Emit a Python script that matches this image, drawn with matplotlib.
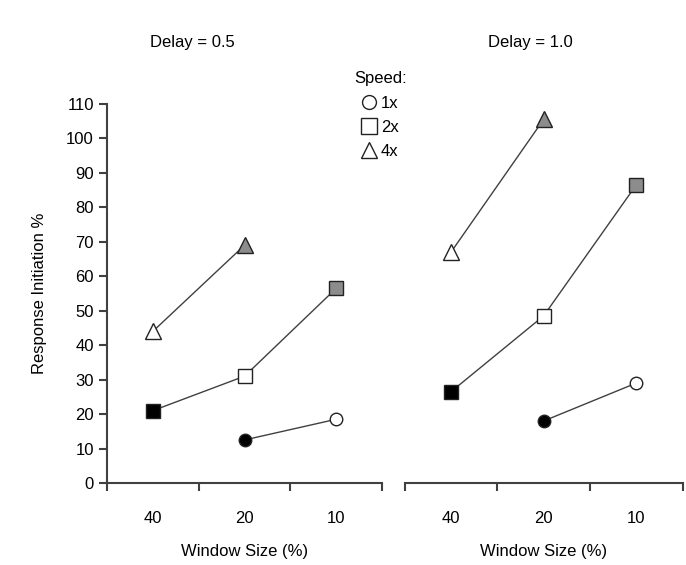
import numpy as np
import matplotlib.pyplot as plt
from matplotlib.lines import Line2D

plt.rcParams['font.family'] = ['Liberation Sans', 'DejaVu Sans']

# data
window_labels = ['40', '20', '10']
delays = ['Delay = 0.5', 'Delay = 1.0']

# left panel (delay 0.5): x positions index into window_labels
tri_x_05 = [0, 1]
tri_y_05 = [44, 69]
sq_x_05 = [0, 1, 2]
sq_y_05 = [21, 31, 56.5]
circ_x_05 = [1, 2]
circ_y_05 = [12.5, 18.5]

# right panel (delay 1.0)
tri_x_10 = [0, 1]
tri_y_10 = [67, 105.5]
sq_x_10 = [0, 1, 2]
sq_y_10 = [26.5, 48.5, 86.5]
circ_x_10 = [1, 2]
circ_y_10 = [18, 29]

# marker fills
tri_fill = ['white', '#8c8c8c']
sq_fill = ['black', 'white', '#8c8c8c']
circ_fill = ['black', 'white']

fig = plt.figure(figsize=(6.86, 5.65), dpi=100)
ax1 = fig.add_axes([0.156, 0.1451, 0.401, 0.671])
ax2 = fig.add_axes([0.590, 0.1451, 0.405, 0.671])

line_col = '#404040'
axis_col = '#404040'
fs = 12


def draw_series(ax, xs, ys, marker, fills, ms):
    ax.plot(xs, ys, color=line_col, lw=1.0, zorder=2)
    for x, y, f in zip(xs, ys, fills):
        ax.plot(x, y, marker=marker, ms=ms, mfc=f, mec='#222222', mew=1.0,
                ls='none', zorder=3, clip_on=False)


panels = [
    (ax1, tri_x_05, tri_y_05, sq_x_05, sq_y_05, circ_x_05, circ_y_05),
    (ax2, tri_x_10, tri_y_10, sq_x_10, sq_y_10, circ_x_10, circ_y_10),
]

for ax, tx, ty, sx, sy, cx, cy in panels:
    draw_series(ax, tx, ty, '^', tri_fill, 11)
    draw_series(ax, sx, sy, 's', sq_fill, 10)
    draw_series(ax, cx, cy, 'o', circ_fill, 9)
    ax.set_xlim(-0.5, 2.5)
    ax.set_ylim(0, 110)
    ax.set_xticks([-0.5, 0.5, 1.5, 2.5])
    ax.set_xticklabels([])
    ax.set_xticks(range(len(window_labels)), minor=True)
    ax.set_xticklabels(window_labels, minor=True, fontsize=fs)
    ax.tick_params(axis='x', which='major', direction='out', length=6,
                   width=1.5, color=axis_col)
    ax.tick_params(axis='x', which='minor', length=0, pad=20)
    ax.set_xlabel('Window Size (%)', fontsize=fs, labelpad=13)
    for s in ['top', 'right']:
        ax.spines[s].set_visible(False)
    ax.spines['bottom'].set_color(axis_col)
    ax.spines['bottom'].set_linewidth(1.5)

ax1.set_yticks(np.arange(0, 111, 10))
ax1.tick_params(axis='y', direction='out', length=6, width=1.5,
                color=axis_col, labelsize=fs)
ax1.spines['left'].set_color(axis_col)
ax1.spines['left'].set_linewidth(1.5)
ax1.set_ylabel('Response Initiation %', fontsize=fs, labelpad=14)

ax2.spines['left'].set_visible(False)
ax2.set_yticks([])

fig.text(192 / 686, 1 - 43 / 565, delays[0], ha='center', va='center', fontsize=fs)
fig.text(530 / 686, 1 - 43 / 565, delays[1], ha='center', va='center', fontsize=fs)

# legend
handles = [
    Line2D([], [], marker='o', ls='none', ms=10, mfc='white', mec='#222222'),
    Line2D([], [], marker='s', ls='none', ms=11, mfc='white', mec='#222222'),
    Line2D([], [], marker='^', ls='none', ms=12, mfc='white', mec='#222222'),
]
leg = fig.legend(handles, ['1x', '2x', '4x'], title='Speed:', frameon=False,
                 loc='upper left', bbox_to_anchor=(346 / 686, 1 - 63 / 565),
                 fontsize=fs, title_fontsize=fs, handlelength=0.8,
                 handletextpad=0.3, labelspacing=0.55, borderpad=0)

fig.savefig('out.png', dpi=100, facecolor='white')
